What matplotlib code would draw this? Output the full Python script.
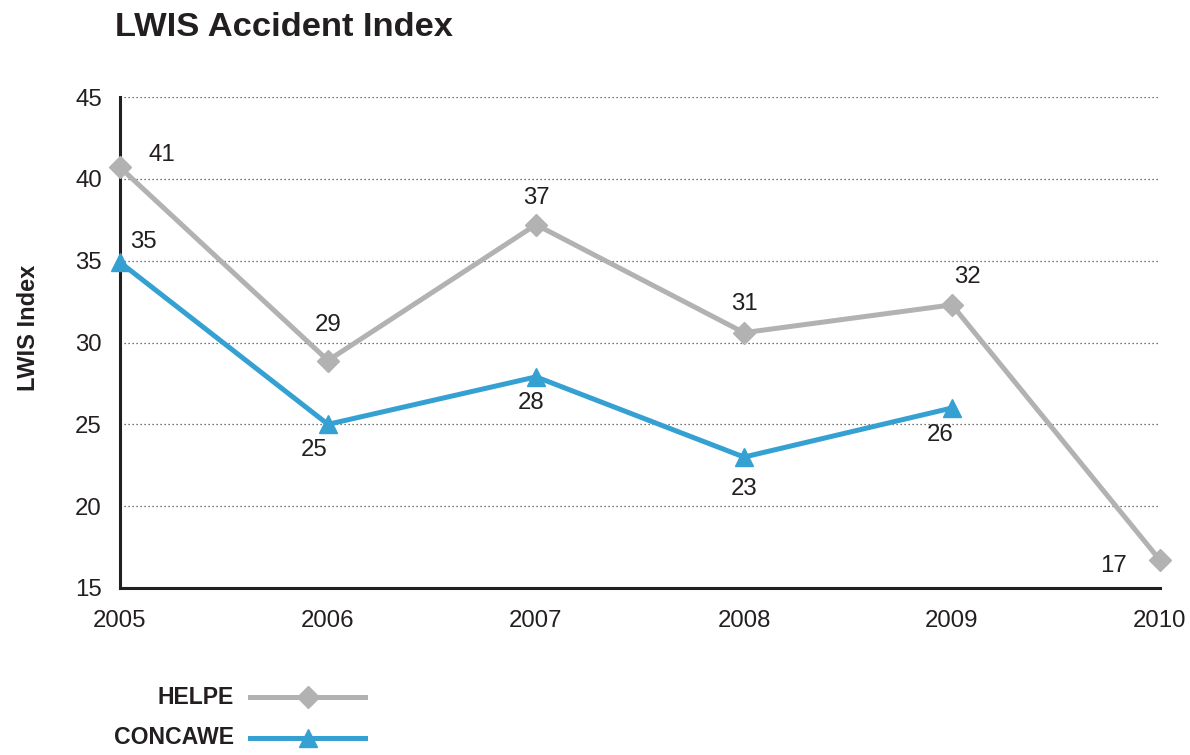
import matplotlib
matplotlib.use("Agg")
import matplotlib.pyplot as plt
from matplotlib.lines import Line2D

plt.rcParams["font.family"] = ["Liberation Sans", "DejaVu Sans"]

INK = "#231f20"
GREY = "#b2b2b2"
BLUE = "#35a1d3"

years = [2005, 2006, 2007, 2008, 2009, 2010]
helpe = [40.7, 28.9, 37.2, 30.6, 32.3, 16.7]
helpe_labels = ["41", "29", "37", "31", "32", "17"]
concawe_years = [2005, 2006, 2007, 2008, 2009]
concawe = [34.9, 25.0, 27.9, 23.0, 26.0]
concawe_labels = ["35", "25", "28", "23", "26"]
yticks = [15, 20, 25, 30, 35, 40, 45]

# label offsets in pixels (dx, dy)
helpe_off = [(42, 12), (0, 36), (0, 27), (0, 29), (15, 28), (-47, -6)]
concawe_off = [(23, 20), (-14, -26), (-5, -26), (0, -32), (-12, -27)]

fig = plt.figure(figsize=(11.9, 7.55), dpi=100, facecolor="white")
ax = fig.add_axes([120 / 1190, 1 - 588 / 755, 1040 / 1190, 491 / 755])

ax.plot(years, helpe, color=GREY, lw=3.6, marker="D", ms=11.5,
        mfc=GREY, mec=GREY, clip_on=False, zorder=3)
ax.plot(concawe_years, concawe, color=BLUE, lw=3.6, marker="^", ms=13,
        mfc=BLUE, mec=BLUE, clip_on=False, zorder=4)

for x, y, lab, (dx, dy) in zip(years, helpe, helpe_labels, helpe_off):
    ax.annotate(lab, (x, y), xytext=(dx, dy), textcoords="offset pixels",
                ha="center", va="center", fontsize=17.3, color=INK)
for x, y, lab, (dx, dy) in zip(concawe_years, concawe, concawe_labels, concawe_off):
    ax.annotate(lab, (x, y), xytext=(dx, dy), textcoords="offset pixels",
                ha="center", va="center", fontsize=17.3, color=INK)

ax.set_xlim(2005, 2010)
ax.set_ylim(15, 45)
ax.set_xticks(years)
ax.set_xticklabels([str(y) for y in years])
ax.set_yticks(yticks)
ax.tick_params(axis="both", length=0, labelsize=17.3, colors=INK)
ax.tick_params(axis="y", pad=13)
ax.tick_params(axis="x", pad=16)

for s in ("top", "right"):
    ax.spines[s].set_visible(False)
for s in ("left", "bottom"):
    ax.spines[s].set_color(INK)
    ax.spines[s].set_linewidth(2.2)

for y in yticks[1:]:
    ax.axhline(y, color="#444444", lw=0.9, ls=(0, (1, 2.2)), zorder=1)

ax.set_ylabel("LWIS Index", fontsize=17, fontweight="bold", color=INK)
ax.yaxis.set_label_coords(-80 / 1040, 0.53)

fig.text(115 / 1190, 1 - 27 / 755, "LWIS Accident Index", fontsize=24.8,
         fontweight="bold", color=INK, ha="left", va="center")

# legend drawn by hand at bottom left
for ypx, name, col, mk, ms in [(697, "HELPE", GREY, "D", 11.5),
                              (738, "CONCAWE", BLUE, "^", 13)]:
    yf = 1 - ypx / 755
    fig.text(234 / 1190, yf, name, fontsize=16.6, fontweight="bold",
             color=INK, ha="right", va="center")
    fig.add_artist(Line2D([250 / 1190, 365 / 1190], [yf, yf], color=col, lw=3.6,
                          transform=fig.transFigure))
    fig.add_artist(Line2D([308 / 1190], [yf], color=col, marker=mk, ms=ms,
                          mfc=col, mec=col, ls="none", transform=fig.transFigure))

fig.savefig("out.png", dpi=100, facecolor="white")
